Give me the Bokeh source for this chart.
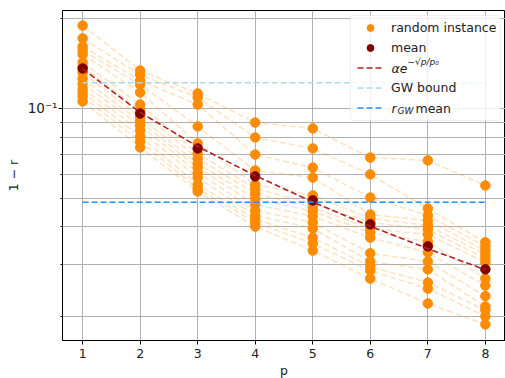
from bokeh.plotting import figure
from bokeh.models import Range1d, FixedTicker, Legend, LegendItem, Label, BoxAnnotation
from bokeh.embed import file_html
from bokeh.resources import INLINE

# ---- data ----
p_vals = [1, 2, 3, 4, 5, 6, 7, 8]

inst_p1 = [0.190, 0.172, 0.1616, 0.1566, 0.1519, 0.1428, 0.1384, 0.1321, 0.1261, 0.1213, 0.1167, 0.1132, 0.1097, 0.1056]
inst_p2 = [0.1342, 0.130, 0.1242, 0.1204, 0.1132, 0.1031, 0.0985, 0.0933, 0.0904, 0.0877, 0.0844, 0.0805, 0.0774, 0.0740]
inst_p3 = [0.1123, 0.1089, 0.1031, 0.0870, 0.0763, 0.0706, 0.0679, 0.0653, 0.0633, 0.0609, 0.0586, 0.0555, 0.0538, 0.0526]
inst_p4 = [0.0897, 0.0799, 0.0700, 0.0619, 0.0555, 0.0538, 0.0518, 0.0498, 0.0476, 0.0454, 0.0437, 0.0424, 0.0414, 0.0401]
inst_p5 = [0.0857, 0.0734, 0.0633, 0.0586, 0.0510, 0.0479, 0.0465, 0.0451, 0.0434, 0.0414, 0.0395, 0.0368, 0.0352, 0.0333]
inst_p6 = [0.0684, 0.0600, 0.0502, 0.0440, 0.0427, 0.0414, 0.0395, 0.0383, 0.0368, 0.0326, 0.0306, 0.0294, 0.0285, 0.0268]
inst_p7 = [0.0669, 0.0461, 0.0437, 0.0420, 0.0404, 0.0392, 0.0377, 0.0357, 0.0328, 0.0306, 0.0288, 0.0260, 0.0248, 0.0221]
inst_p8 = [0.0551, 0.0355, 0.0344, 0.0333, 0.0323, 0.0313, 0.0304, 0.0268, 0.0254, 0.0234, 0.0216, 0.0210, 0.0200, 0.0188]

mean_vals = [0.1363, 0.0962, 0.0734, 0.0591, 0.0491, 0.0408, 0.0344, 0.0288]
fit_vals = [0.136, 0.097, 0.0745, 0.0595, 0.0485, 0.0402, 0.0338, 0.0287]
gw_bound = 0.122
rgw_mean = 0.0484

x_ticks = [1, 2, 3, 4, 5, 6, 7, 8]
y_major = [0.1]
y_major_labels = {0.1: "10⁻¹"}
y_minor = [0.02, 0.03, 0.04, 0.05, 0.06, 0.07, 0.08, 0.09, 0.2]

FONT = "DejaVu Sans"
FS = "12.5px"
GRID = "#b0b0b0"
TXT = "#222222"

fig = figure(frame_width=443, frame_height=330,
             x_range=Range1d(0.65, 8.35), y_range=Range1d(0.0166, 0.2135),
             y_axis_type="log", output_backend="svg", toolbar_location=None,
             min_border_left=62, min_border_top=10, min_border_right=0, min_border_bottom=0)
fig.background_fill_color = "white"
fig.border_fill_color = "white"
fig.outline_line_color = "black"
fig.outline_line_width = 1

# axes
fig.xaxis.ticker = FixedTicker(ticks=x_ticks, minor_ticks=[])
yt = FixedTicker(ticks=y_major, minor_ticks=y_minor)
fig.yaxis.ticker = yt
fig.ygrid.ticker = yt
fig.yaxis.major_label_overrides = y_major_labels
for ax in (fig.xaxis[0], fig.yaxis[0]):
    ax.axis_line_color = "black"
    ax.major_tick_line_color = "black"
    ax.minor_tick_line_color = "black"
    ax.major_tick_in = 0
    ax.major_tick_out = 4
    ax.minor_tick_in = 0
    ax.minor_tick_out = 2
    ax.major_label_text_font = FONT
    ax.major_label_text_font_size = FS
    ax.major_label_text_color = TXT
    ax.axis_label_text_font = FONT
    ax.axis_label_text_font_size = FS
    ax.axis_label_text_font_style = "normal"
    ax.axis_label_text_color = TXT
fig.yaxis.major_label_text_font_size = "13.5px"
fig.xaxis.major_label_standoff = 4
fig.xaxis.axis_label_standoff = 2
fig.yaxis.major_label_standoff = 1
fig.yaxis.axis_label_standoff = 4
fig.xaxis.axis_label = "p"
fig.yaxis.axis_label = "1 − r"

fig.xgrid.grid_line_color = GRID
fig.ygrid.grid_line_color = GRID
fig.ygrid.minor_grid_line_color = GRID
fig.xgrid.grid_line_width = 1
fig.ygrid.grid_line_width = 1
fig.ygrid.minor_grid_line_width = 1

# random instances
cols = [inst_p1, inst_p2, inst_p3, inst_p4, inst_p5, inst_p6, inst_p7, inst_p8]
instances = [list(v) for v in zip(*cols)]
fig.multi_line(xs=[p_vals] * len(instances), ys=instances,
               line_color="#ff8c00", line_alpha=0.25, line_width=1.5, line_dash="6 3")
xs_pts = [pv for pv, col in zip(p_vals, cols) for _ in col]
ys_pts = [v for col in cols for v in col]
r_pts = fig.scatter(xs_pts, ys_pts, size=9.5, fill_color="#ff8c00", line_color="#ff8c00")

r_mean = fig.scatter(p_vals, mean_vals, size=9.5, fill_color="#800000", line_color="#800000")
r_fit = fig.line(p_vals, fit_vals, line_color="#b22222", line_width=1.6, line_dash="6 3")
r_gw = fig.line(p_vals, [gw_bound] * len(p_vals), line_color="#add8e6", line_width=1.6, line_dash="6 3")
r_rgw = fig.line(p_vals, [rgw_mean] * len(p_vals), line_color="#1e90ff", line_width=1.6, line_dash="6 3")

# legend frame (drawn as a box so the math labels can sit on top of it)
fig.add_layout(BoxAnnotation(left=288, right=438, top=325, bottom=220,
                             left_units="screen", right_units="screen",
                             top_units="screen", bottom_units="screen",
                             fill_color="white", fill_alpha=0.8,
                             line_color="#cccccc", line_width=1, border_radius=3,
                             level="annotation"))

legend = Legend(items=[
    LegendItem(label="random instance", renderers=[r_pts]),
    LegendItem(label="mean", renderers=[r_mean]),
    LegendItem(label=" ", renderers=[r_fit]),
    LegendItem(label="GW bound", renderers=[r_gw]),
    LegendItem(label=" ", renderers=[r_rgw]),
], location=(291, 220), padding=4, spacing=3, label_height=17, glyph_height=17,
    glyph_width=26, label_standoff=8, margin=0,
    border_line_alpha=0, background_fill_alpha=0,
    label_text_font=FONT, label_text_font_size=FS, label_text_color=TXT)
fig.add_layout(legend)

lx = 329
row3 = 272.5
row5 = 232.5
for txt, x, y, size in [("αe", lx, row3, FS), ("−√p/p₀", lx + 16, row3 + 6, "9px"),
                        ("r", lx, row5, FS), ("GW", lx + 6, row5 - 3, "9px")]:
    fig.add_layout(Label(x=x, y=y, x_units="screen", y_units="screen", text=txt,
                         text_font=FONT, text_font_size=size, text_font_style="italic",
                         text_baseline="middle", text_color=TXT, level="overlay"))
fig.add_layout(Label(x=lx + 24, y=row5, x_units="screen", y_units="screen", text="mean",
                     text_font=FONT, text_font_size=FS, text_baseline="middle",
                     text_color=TXT, level="overlay"))

html = file_html(fig, INLINE)
open("out.html", "w").write(html)
